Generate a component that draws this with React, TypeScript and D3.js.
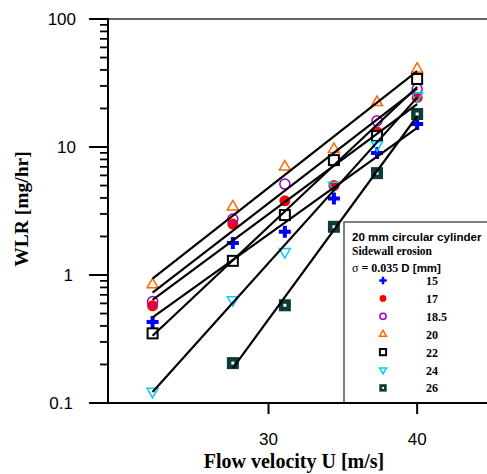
import React, { useEffect, useRef } from 'react';
import * as d3 from 'd3';

// flow velocity [m/s] for each measurement column
const velocity = [22.2, 27.6, 31.1, 34.4, 37.3, 40.0];

// WLR [mg/hr] per sigma value (null = not measured)
const wlr15 = [0.43, 1.78, 2.18, 3.96, 8.97, 15.1];
const wlr17 = [0.575, 2.5, 3.8, 5.0, 13.1, 24.4];
const wlr185 = [0.62, 2.74, 5.13, 7.8, 16.0, 28.4];
const wlr20 = [0.84, 3.41, 7.0, 9.6, 22.3, 40.7];
const wlr22 = [0.35, 1.29, 2.94, 7.9, 12.2, 34];
const wlr24 = [0.123, 0.64, 1.52, 5.0, 10.4, 25];
const wlr26 = [null, 0.205, 0.58, 2.38, 6.25, 18.1];

const seriesLabels = ['15', '17', '18.5', '20', '22', '24', '26'];
const seriesValues = [wlr15, wlr17, wlr185, wlr20, wlr22, wlr24, wlr26];

const xTicks = [30, 40];
const yMajor = [0.1, 1, 10, 100];
const yLabels = ['0.1', '1', '10', '100'];

const W = 487;
const H = 474;

const App = () => {
  const svgRef = useRef<SVGSVGElement>(null);

  useEffect(() => {
    const svg = d3.select(svgRef.current);
    svg.selectAll('*').remove();

    const x = d3.scaleLinear().domain([19.2, 44.7]).range([108, 487]);
    const y = d3.scaleLog().domain([0.1, 100]).range([403, 19]);

    // marker drawing, k = 1 in plot, smaller in legend
    function drawMarker(g, idx, cx, cy, k) {
      const t = `translate(${cx},${cy})`;
      if (idx === 0) {
        g.append('path').attr('transform', t)
          .attr('d', d3.symbol(d3.symbolCross, 80 * k * k)())
          .attr('fill', '#0000ff');
      } else if (idx === 1) {
        g.append('circle').attr('cx', cx).attr('cy', cy).attr('r', 5.5 * k).attr('fill', '#ff0000');
      } else if (idx === 2) {
        g.append('circle').attr('cx', cx).attr('cy', cy).attr('r', 5 * k)
          .attr('fill', 'none').attr('stroke', '#9900cc').attr('stroke-width', 1.5);
      } else if (idx === 3) {
        g.append('path').attr('transform', t)
          .attr('d', d3.symbol(d3.symbolTriangle, 52 * k * k)())
          .attr('fill', 'none').attr('stroke', '#ff6600').attr('stroke-width', 1.5);
      } else if (idx === 4) {
        g.append('rect').attr('x', cx - 5 * k).attr('y', cy - 5 * k)
          .attr('width', 10 * k).attr('height', 10 * k)
          .attr('fill', 'white').attr('stroke', '#000').attr('stroke-width', 2);
      } else if (idx === 5) {
        g.append('path').attr('transform', t + ' rotate(180)')
          .attr('d', d3.symbol(d3.symbolTriangle, 52 * k * k)())
          .attr('fill', 'none').attr('stroke', '#00ccff').attr('stroke-width', 1.5);
      } else {
        g.append('rect').attr('x', cx - 6 * k).attr('y', cy - 6 * k)
          .attr('width', 12 * k).attr('height', 12 * k)
          .attr('fill', '#0d3b3b');
        g.append('rect').attr('x', cx - 1.5 * k).attr('y', cy - 1.5 * k)
          .attr('width', 3 * k).attr('height', 3 * k)
          .attr('fill', 'white');
      }
    }

    // top frame line
    svg.append('line')
      .attr('x1', 108).attr('x2', W).attr('y1', 19).attr('y2', 19)
      .attr('stroke', '#333').attr('stroke-width', 1.5);

    // markers
    const pts = svg.append('g');
    seriesValues.forEach((vals, i) => {
      vals.forEach((v, j) => {
        if (v == null) return;
        drawMarker(pts, i, x(velocity[j]), y(v), 1);
      });
    });

    // exponential fit lines (least squares on log10 WLR)
    const fits = svg.append('g');
    seriesValues.forEach((vals) => {
      const pairs = vals.map((v, j) => [velocity[j], v]).filter(p => p[1] != null);
      const mx = d3.mean(pairs, p => p[0]);
      const my = d3.mean(pairs, p => Math.log10(p[1]));
      const sxy = d3.sum(pairs, p => (p[0] - mx) * (Math.log10(p[1]) - my));
      const sxx = d3.sum(pairs, p => (p[0] - mx) ** 2);
      const b = sxy / sxx;
      const x0 = pairs[0][0];
      const x1 = pairs[pairs.length - 1][0];
      const f = xv => Math.pow(10, my + b * (xv - mx));
      fits.append('line')
        .attr('x1', x(x0)).attr('y1', y(f(x0)))
        .attr('x2', x(x1)).attr('y2', y(f(x1)))
        .attr('stroke', '#000').attr('stroke-width', 2.2);
    });

    // legend box
    const lg = svg.append('g');
    lg.append('rect')
      .attr('x', 344).attr('y', 222).attr('width', 160).attr('height', 181)
      .attr('fill', 'white').attr('stroke', '#555').attr('stroke-width', 1.5);
    lg.append('text').attr('x', 352).attr('y', 241)
      .style('font-family', 'Liberation Sans, Arial, sans-serif')
      .style('font-weight', 'bold').style('font-size', '11.6px')
      .text('20 mm circular cylinder');
    lg.append('text').attr('x', 352).attr('y', 254.5)
      .style('font-family', 'Liberation Serif, Times New Roman, serif')
      .style('font-weight', 'bold').style('font-size', '11.5px')
      .text('Sidewall erosion');
    const sig = lg.append('text').attr('x', 352).attr('y', 271.5)
      .style('font-family', 'Liberation Serif, Times New Roman, serif')
      .style('font-size', '12px');
    sig.append('tspan').text('σ  ');
    sig.append('tspan').style('font-weight', 'bold').text('= 0.035 ');
    sig.append('tspan').style('font-weight', 'bold')
      .style('font-family', 'Liberation Sans, Arial, sans-serif').style('font-size', '11.5px')
      .text('D [mm]');
    seriesLabels.forEach((lab, i) => {
      const cy = 280.5 + i * 17.9;
      drawMarker(lg, i, 383, cy, 0.62);
      lg.append('text').attr('x', 426).attr('y', cy + 4.5)
        .style('font-family', 'Liberation Serif, Times New Roman, serif')
        .style('font-weight', 'bold').style('font-size', '12px')
        .text(lab);
    });

    // y axis
    const ax = svg.append('g');
    ax.append('line').attr('x1', 108).attr('x2', 108).attr('y1', 18).attr('y2', 404)
      .attr('stroke', '#000').attr('stroke-width', 2);
    const minor = [];
    [0.1, 1, 10].forEach(d => { for (let m = 2; m <= 9; m++) minor.push(d * m); });
    ax.selectAll('.ymin').data(minor).enter().append('line')
      .attr('x1', 100).attr('x2', 108)
      .attr('y1', d => y(d)).attr('y2', d => y(d))
      .attr('stroke', '#000').attr('stroke-width', 1.8);
    ax.selectAll('.ymaj').data(yMajor).enter().append('line')
      .attr('x1', 89).attr('x2', 108)
      .attr('y1', d => y(d)).attr('y2', d => y(d))
      .attr('stroke', '#000').attr('stroke-width', 2);
    ax.selectAll('.ylab').data(yMajor).enter().append('text')
      .attr('x', (d, i) => (i === 0 || i === 1 ? 73 : 76))
      .attr('y', d => y(d) + 6)
      .attr('text-anchor', 'end')
      .style('font-family', 'Liberation Sans, Arial, sans-serif')
      .style('font-size', '17px')
      .text((d, i) => yLabels[i]);

    // x axis
    ax.append('line').attr('x1', 107).attr('x2', W).attr('y1', 403).attr('y2', 403)
      .attr('stroke', '#000').attr('stroke-width', 2.2);
    ax.selectAll('.xt').data(xTicks).enter().append('line')
      .attr('x1', d => x(d)).attr('x2', d => x(d))
      .attr('y1', 403).attr('y2', 414)
      .attr('stroke', '#000').attr('stroke-width', 2);
    ax.selectAll('.xl').data(xTicks).enter().append('text')
      .attr('x', d => x(d)).attr('y', 445)
      .attr('text-anchor', 'middle')
      .style('font-family', 'Liberation Sans, Arial, sans-serif')
      .style('font-size', '17px')
      .text(d => d);

    // axis titles
    svg.append('text').attr('x', 294).attr('y', 468)
      .attr('text-anchor', 'middle')
      .style('font-family', 'Liberation Serif, Times New Roman, serif')
      .style('font-weight', 'bold').style('font-size', '20px')
      .text('Flow velocity U [m/s]');
    svg.append('text')
      .attr('transform', 'translate(28,209) rotate(-90)')
      .attr('text-anchor', 'middle')
      .style('font-family', 'Liberation Serif, Times New Roman, serif')
      .style('font-weight', 'bold').style('font-size', '19.5px')
      .text('WLR  [mg/hr]');
  }, []);

  return (
    <svg ref={svgRef} width={W} height={H}
      style={{ position: 'fixed', left: 0, top: 0, background: 'white' }} />
  );
};

export default App;
